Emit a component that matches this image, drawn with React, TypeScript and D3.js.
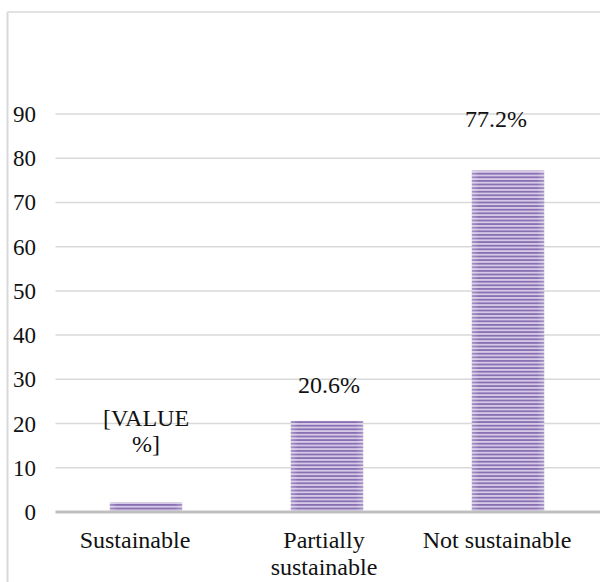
import React from "react";
import * as d3 from "d3";

const categories = ["Sustainable", "Partially sustainable", "Not sustainable"];
const categoryLines = [["Sustainable"], ["Partially", "sustainable"], ["Not sustainable"]];
const values = [2.2, 20.6, 77.2];
const valueLabels = [["[VALUE", "%]"], ["20.6%"], ["77.2%"]];
const labelGap = [50, 28, 44];
const valueShift = [0, 2, -12];
const catShift = [-11, -3, -11];
const yTicks = [0, 10, 20, 30, 40, 50, 60, 70, 80, 90];

export default function App() {
  const W = 600, H = 582;
  const x = d3.scaleBand<string>().domain(categories).range([55.5, 598.5]).paddingInner(0.6).paddingOuter(0.3);
  const y = d3.scaleLinear().domain([0, 90]).range([512, 114]);
  const font = "Liberation Serif";
  const fs = 24;
  return (
    <svg width={W} height={H} style={{ position: "absolute", left: 0, top: 0 }}>
      <defs>
        <pattern id="stripes" width="4" height="3.6" patternUnits="userSpaceOnUse">
          <rect width="4" height="3.6" fill="#d4cae6" />
          <rect y="0" width="4" height="1.8" fill="#8a70b3" />
        </pattern>
        <linearGradient id="edge" x1="0" x2="1" y1="0" y2="0">
          <stop offset="0" stopColor="#ffffff" stopOpacity="0.25" />
          <stop offset="0.1" stopColor="#ffffff" stopOpacity="0" />
          <stop offset="0.9" stopColor="#ffffff" stopOpacity="0" />
          <stop offset="1" stopColor="#ffffff" stopOpacity="0.25" />
        </linearGradient>
      </defs>
      <rect x={0} y={0} width={W} height={H} fill="#fff" />
      <line x1={7.5} x2={600} y1={12} y2={12} stroke="#d9d9d9" strokeWidth={1.5} />
      <line x1={7.5} x2={7.5} y1={12} y2={582} stroke="#d9d9d9" strokeWidth={2} />
      {yTicks.map((t) => (
        <g key={t}>
          {t !== 0 && (
            <line x1={55.5} x2={600} y1={y(t)} y2={y(t)} stroke="#d9d9d9" strokeWidth={1.5} />
          )}
          <text x={36} y={y(t) + 8} textAnchor="end" fontFamily={font} fontSize={23} fill="#111">
            {t}
          </text>
        </g>
      ))}
      {categories.map((c, i) => {
        const bx = x(c)!;
        const bw = x.bandwidth();
        const cx = bx + bw / 2;
        const labels = valueLabels[i];
        const base = y(values[i]) - labelGap[i] - (labels.length - 1) * 26;
        return (
          <g key={c}>
            <rect x={bx} y={y(values[i])} width={bw} height={y(0) - y(values[i])} fill="url(#stripes)" />
            <rect x={bx} y={y(values[i])} width={bw} height={y(0) - y(values[i])} fill="url(#edge)" />
            {labels.map((l, j) => (
              <text key={j} x={cx + valueShift[i]} y={base + j * 26} textAnchor="middle" fontFamily={font} fontSize={fs} fill="#111">
                {l}
              </text>
            ))}
            {categoryLines[i].map((l, j) => (
              <text key={j} x={cx + catShift[i]} y={548 + j * 27} textAnchor="middle" fontFamily={font} fontSize={fs} fill="#111">
                {l}
              </text>
            ))}
          </g>
        );
      })}
      <line x1={55.5} x2={600} y1={y(0)} y2={y(0)} stroke="#bfbfbf" strokeWidth={3} />
    </svg>
  );
}
